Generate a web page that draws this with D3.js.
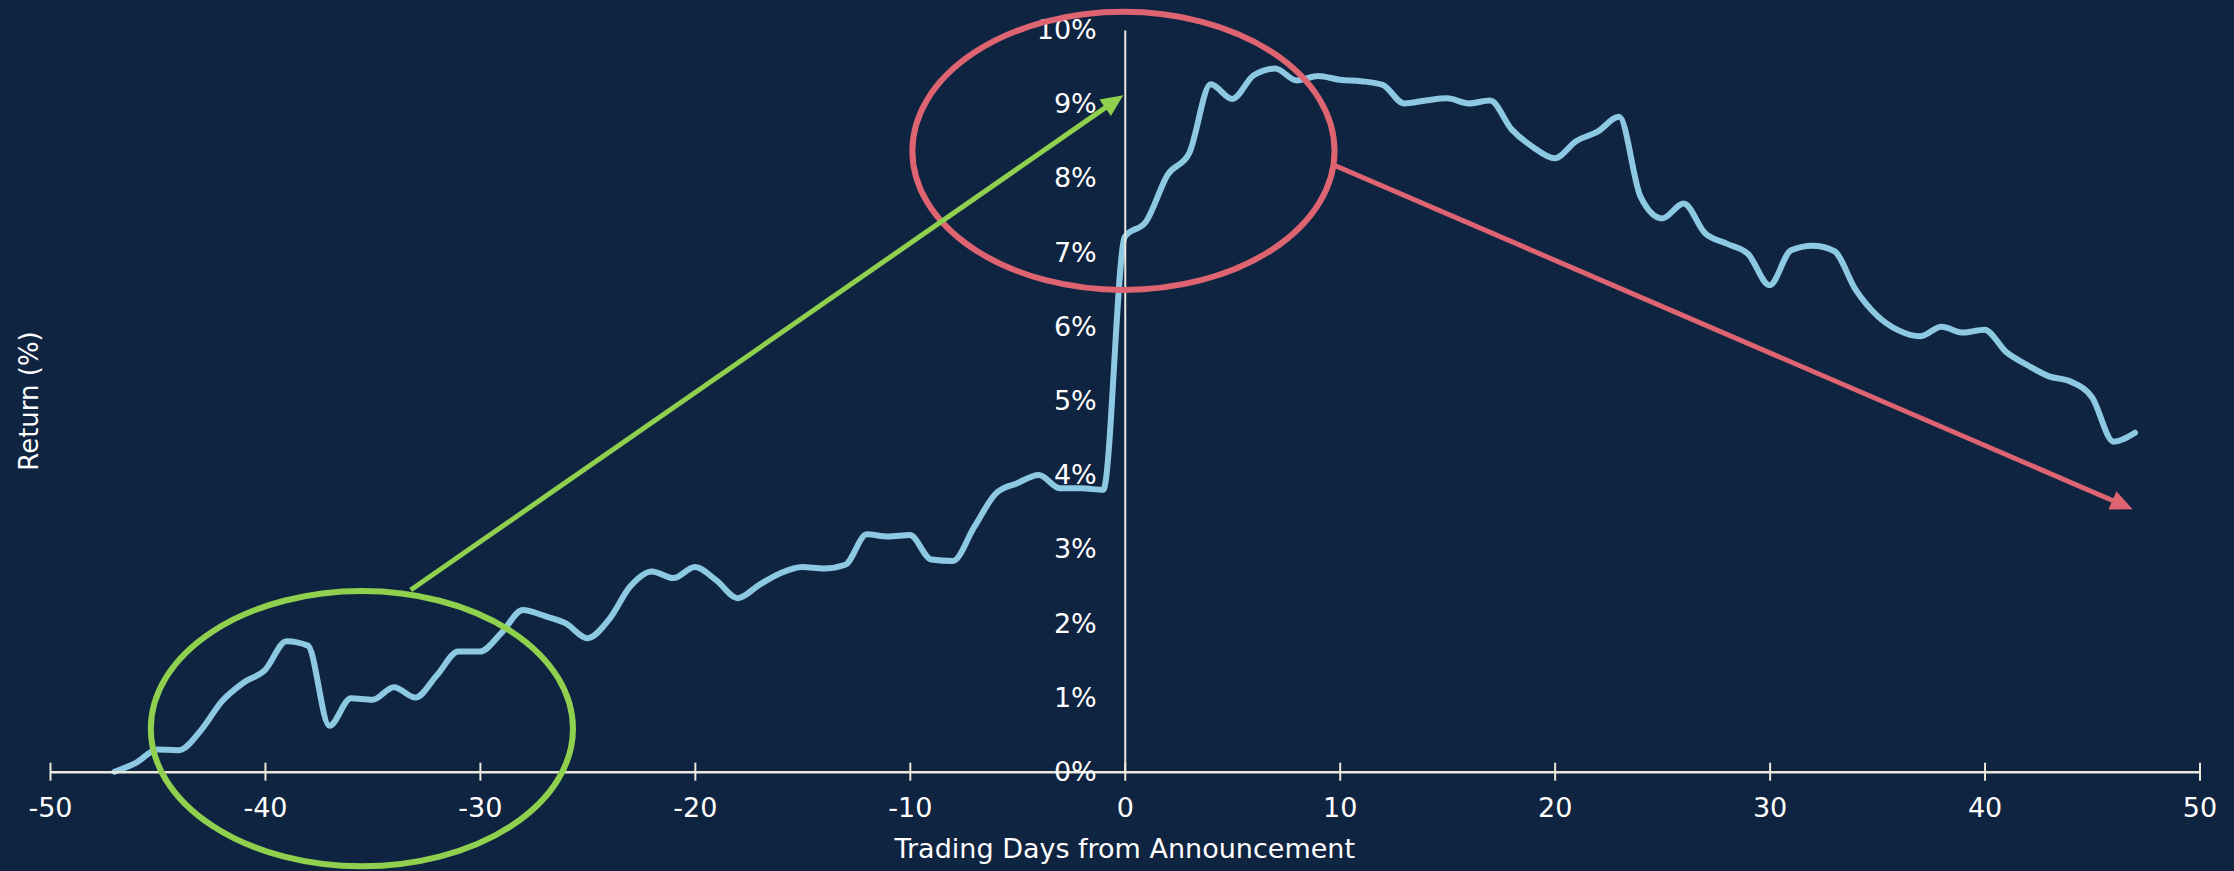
<!DOCTYPE html>
<html>
<head>
<meta charset="utf-8">
<script src="https://cdn.jsdelivr.net/npm/d3@7"></script>
<style>
  html, body { margin: 0; padding: 0; background: #0f2440; }
  svg { display: block; }
</style>
</head>
<body>
<figure id="chart" style="margin:0"></figure>
<script>
// average return (%) by trading day, first value is day -47
const firstDay = -47;
const returns = [
  0.00, 0.12, 0.30, 0.29, 0.55, 0.95, 1.20, 1.37, 1.76, 1.70,
  0.62, 0.99, 0.97, 1.14, 1.00, 1.30, 1.62, 1.62, 1.87, 2.18,
  2.10, 2.00, 1.80, 2.05, 2.50, 2.70, 2.61, 2.76, 2.58, 2.34,
  2.52, 2.68, 2.76, 2.74, 2.79, 3.20, 3.17, 3.19, 2.86, 2.84,
  3.30, 3.75, 3.89, 4.00, 3.82, 3.82, 3.80, 7.21, 7.42, 8.05,
  8.34, 9.27, 9.07, 9.39, 9.48, 9.32, 9.38, 9.33, 9.31, 9.26,
  9.01, 9.05, 9.08, 9.01, 9.05, 8.66, 8.42, 8.27, 8.50, 8.63,
  8.83, 7.75, 7.46, 7.66, 7.26, 7.12, 6.98, 6.56, 7.03, 7.09,
  7.02, 6.50, 6.15, 5.95, 5.87, 6.00, 5.92, 5.96, 5.66, 5.48,
  5.33, 5.26, 5.05, 4.45, 4.57
];

const xTicks = [-50, -40, -30, -20, -10, 0, 10, 20, 30, 40, 50];
const yTicks = [0, 1, 2, 3, 4, 5, 6, 7, 8, 9, 10];

// annotations in data units: [day, return]
const ovals = [
  { cx: -35.49, cy: 0.58, rx: 9.82, ry: 1.855, color: "#8fd04e" },
  { cx: -0.06, cy: 8.37, rx: 9.82, ry: 1.875, color: "#dd6470" }
];
const arrows = [
  { from: [-33.22, 2.45], to: [-0.07, 9.12], color: "#8fd04e" },
  { from: [9.80, 8.17], to: [46.89, 3.54], color: "#dd6470" }
];

const width = 2234;
const height = 871;
const font = "'DejaVu Sans', sans-serif";

const data = returns.map((v, i) => ({ day: firstDay + i, value: v }));

const x = d3.scaleLinear().domain([-50, 50]).range([50, 2199.5]);
const y = d3.scaleLinear().domain([0, 10]).range([771.7, 30]);

const svg = d3.select("figure#chart")
  .append("svg")
  .attr("width", width)
  .attr("height", height);

svg.append("rect")
  .attr("width", width)
  .attr("height", height)
  .attr("fill", "#0f2440");

// return line
const line = d3.line()
  .x(d => x(d.day))
  .y(d => y(d.value))
  .curve(d3.curveMonotoneX);

svg.append("path")
  .datum(data)
  .attr("d", line)
  .attr("fill", "none")
  .attr("stroke", "#8dc9e2")
  .attr("stroke-width", 6)
  .attr("stroke-linejoin", "round")
  .attr("stroke-linecap", "round");

// x axis
const xAxis = svg.append("g")
  .attr("transform", "translate(0," + y(0) + ")")
  .call(d3.axisBottom(x).tickValues(xTicks).tickSizeInner(9).tickSizeOuter(0).tickPadding(17)
    .tickFormat(d => String(d)));

xAxis.select(".domain").attr("stroke", "#ebe8dc").attr("stroke-width", 2.5);
xAxis.selectAll(".tick line")
  .attr("y1", -9)
  .attr("y2", 9)
  .attr("stroke", "#ebe8dc")
  .attr("stroke-width", 2);
xAxis.selectAll(".tick text")
  .attr("fill", "#ffffff")
  .style("font-family", font)
  .style("font-size", "27px");

// y axis on the announcement day
const yAxis = svg.append("g")
  .attr("transform", "translate(" + x(0) + ",0)")
  .call(d3.axisLeft(y).tickValues(yTicks).tickSize(0).tickPadding(28).tickFormat(d => d + "%"));

yAxis.select(".domain").attr("stroke", "#ebe8dc").attr("stroke-width", 2);
yAxis.selectAll(".tick text")
  .attr("fill", "#ffffff")
  .style("font-family", font)
  .style("font-size", "27px");

// axis titles
svg.append("text")
  .attr("x", x(0))
  .attr("y", 858)
  .attr("text-anchor", "middle")
  .attr("fill", "#ffffff")
  .style("font-family", font)
  .style("font-size", "27px")
  .text("Trading Days from Announcement");

svg.append("text")
  .attr("transform", "translate(38,401) rotate(-90)")
  .attr("text-anchor", "middle")
  .attr("fill", "#ffffff")
  .style("font-family", font)
  .style("font-size", "26px")
  .text("Return (%)");

// ovals
svg.selectAll("ellipse.oval")
  .data(ovals)
  .enter()
  .append("ellipse")
  .attr("class", "oval")
  .attr("cx", d => x(d.cx))
  .attr("cy", d => y(d.cy))
  .attr("rx", d => x(d.rx) - x(0))
  .attr("ry", d => y(0) - y(d.ry))
  .attr("fill", "none")
  .attr("stroke", d => d.color)
  .attr("stroke-width", 6);

// arrows: shaft stops at the head base, head is a triangle
const headLen = 22;
const headHalf = 10;

arrows.forEach(a => {
  const x1 = x(a.from[0]), y1 = y(a.from[1]);
  const x2 = x(a.to[0]), y2 = y(a.to[1]);
  const len = Math.hypot(x2 - x1, y2 - y1);
  const ux = (x2 - x1) / len, uy = (y2 - y1) / len;
  const bx = x2 - ux * headLen, by = y2 - uy * headLen;

  svg.append("line")
    .attr("x1", x1).attr("y1", y1)
    .attr("x2", bx + ux * 2).attr("y2", by + uy * 2)
    .attr("stroke", a.color)
    .attr("stroke-width", 5);

  svg.append("polygon")
    .attr("points", [
      [x2, y2],
      [bx - uy * headHalf, by + ux * headHalf],
      [bx + uy * headHalf, by - ux * headHalf]
    ].map(p => p.join(",")).join(" "))
    .attr("fill", a.color);
});
</script>
</body>
</html>
